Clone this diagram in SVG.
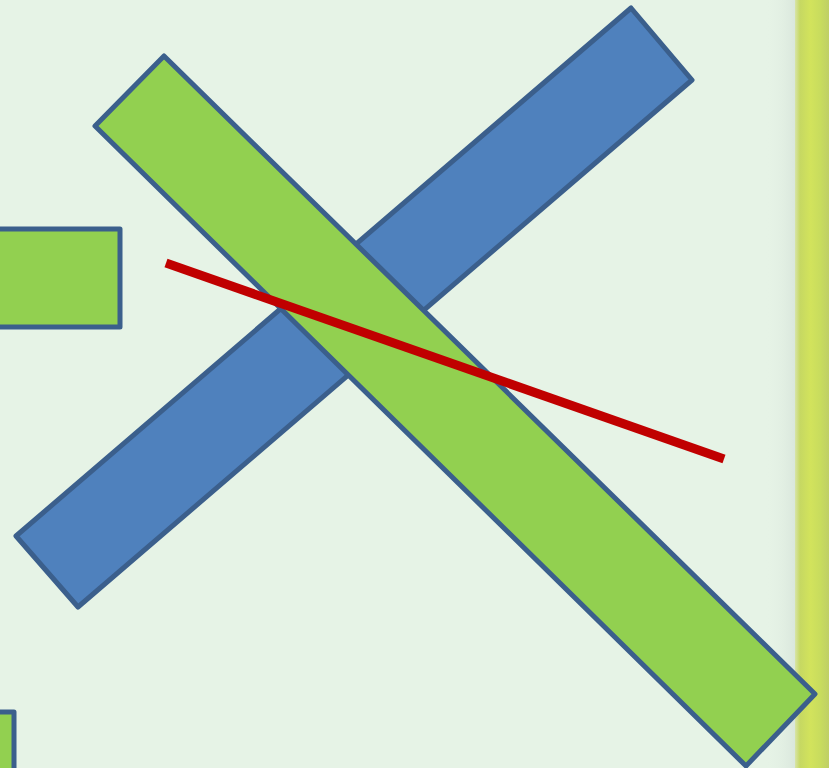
<svg xmlns="http://www.w3.org/2000/svg" width="829" height="768" viewBox="0 0 829 768">
<defs>
<linearGradient id="bar" x1="0" y1="0" x2="1" y2="0">
<stop offset="0" stop-color="#d8e4a8"/>
<stop offset="0.15" stop-color="#c6d862"/>
<stop offset="0.45" stop-color="#d2e35c"/>
<stop offset="0.75" stop-color="#c8dc5e"/>
<stop offset="1" stop-color="#bfcf66"/>
</linearGradient>
<linearGradient id="shade" x1="0" y1="0" x2="1" y2="0">
<stop offset="0" stop-color="#e6f3e6" stop-opacity="0"/>
<stop offset="1" stop-color="#d9e6dc"/>
</linearGradient>
<style>
.s{stroke:#3b5f8c;stroke-width:5;stroke-linejoin:round}
.g{fill:#92d050}
.b{fill:#4f81bd}
</style>
</defs>
<rect width="829" height="768" fill="#e6f3e6"/>
<rect x="765" y="0" width="31" height="768" fill="url(#shade)"/>
<rect x="795" y="0" width="34" height="768" fill="url(#bar)"/>
<g id="rect-left"><rect class="s g" x="-10" y="229" width="130" height="98"/></g>
<g id="rect-bottom-left"><rect class="s g" x="-10" y="712" width="24" height="70"/></g>
<g id="blue-bar"><polygon class="s b" points="631,8 692,80 78,607 16,536"/></g>
<g id="green-bar"><polygon class="s g" points="164,56 815,694 746,766 95,126"/></g>
<g id="connectors"><line x1="166" y1="263" x2="724" y2="459" stroke="#c00000" stroke-width="9"/></g>
</svg>
